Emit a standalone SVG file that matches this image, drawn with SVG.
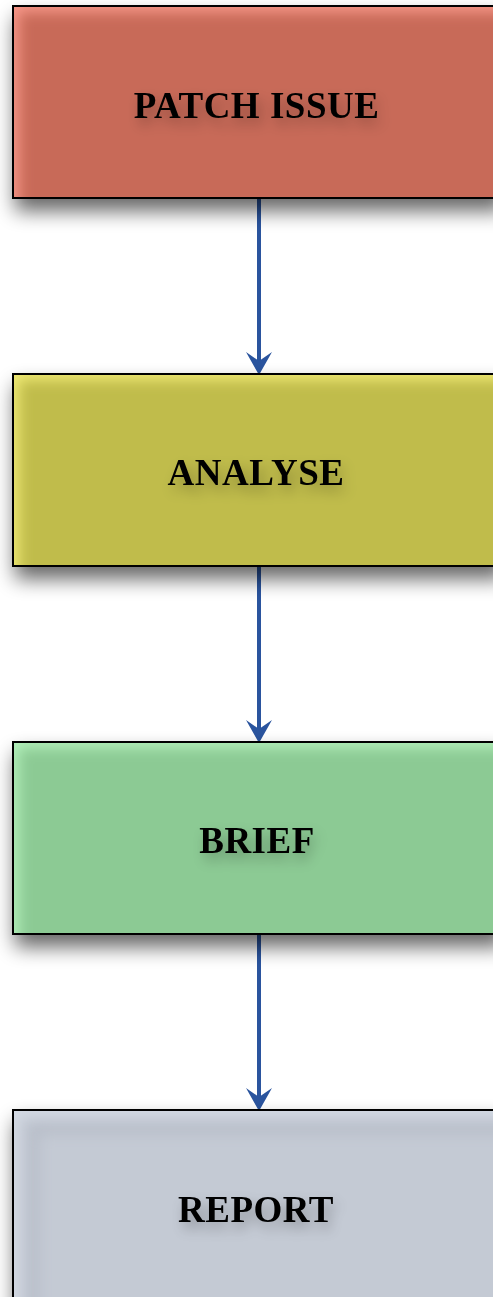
<svg xmlns="http://www.w3.org/2000/svg" width="493" height="1297" viewBox="0 0 493 1297">
<defs>
<style>
.box{stroke:#000;stroke-width:2;filter:url(#drop)}
.lbl{font-family:"Liberation Serif","Times New Roman",serif;font-weight:bold;font-size:37px;letter-spacing:0.5px;text-anchor:middle;fill:#000;filter:url(#tsh)}
.conn{stroke:#2A549E;stroke-width:4;fill:none}
.head{fill:#2A549E}
.glow{fill:none;stroke-width:18;filter:url(#blur)}
</style>
<filter id="drop" x="-10%" y="-20%" width="130%" height="170%">
<feGaussianBlur in="SourceAlpha" stdDeviation="10"/>
<feOffset dx="3" dy="12" result="b"/>
<feComponentTransfer in="b" result="s"><feFuncA type="linear" slope="0.6"/></feComponentTransfer>
<feMerge><feMergeNode in="s"/><feMergeNode in="SourceGraphic"/></feMerge>
</filter>
<filter id="tsh" x="-30%" y="-80%" width="160%" height="260%">
<feGaussianBlur in="SourceAlpha" stdDeviation="7"/>
<feOffset dx="4" dy="7" result="b"/>
<feComponentTransfer in="b" result="s"><feFuncA type="linear" slope="0.3"/></feComponentTransfer>
<feMerge><feMergeNode in="s"/><feMergeNode in="SourceGraphic"/></feMerge>
</filter>
<filter id="blur" x="-10%" y="-10%" width="120%" height="120%"><feGaussianBlur stdDeviation="7"/></filter>
<clipPath id="c1"><rect x="13" y="6" width="488" height="192"/></clipPath>
<clipPath id="c2"><rect x="13" y="374" width="488" height="192"/></clipPath>
<clipPath id="c3"><rect x="13" y="742" width="488" height="192"/></clipPath>
<clipPath id="c4"><rect x="13" y="1110" width="488" height="200"/></clipPath>
</defs>
<g id="connectors">
<line class="conn" x1="259" y1="198" x2="259" y2="362"/>
<line class="conn" x1="259" y1="566" x2="259" y2="730"/>
<line class="conn" x1="259" y1="934" x2="259" y2="1098"/>
<path class="head" d="M246,352 L259,361 L272,352 L259,375 Z"/>
<path class="head" d="M246,720 L259,729 L272,720 L259,743 Z"/>
<path class="head" d="M246,1088 L259,1097 L272,1088 L259,1111 Z"/>
</g>
<g id="patch-issue">
<rect class="box" x="13" y="6" width="488" height="192" fill="#C86A58"/>
<g clip-path="url(#c1)"><rect class="glow" x="10" y="3" width="510" height="230" stroke="#F8988A"/></g>
<rect x="13" y="6" width="488" height="192" fill="none" stroke="#000" stroke-width="2"/>
<text class="lbl" x="256.5" y="118">PATCH ISSUE</text>
</g>
<g id="analyse">
<rect class="box" x="13" y="374" width="488" height="192" fill="#C0BC4C"/>
<g clip-path="url(#c2)"><rect class="glow" x="10" y="371" width="510" height="230" stroke="#F0EA74"/></g>
<rect x="13" y="374" width="488" height="192" fill="none" stroke="#000" stroke-width="2"/>
<text class="lbl" x="256" y="485">ANALYSE</text>
</g>
<g id="brief">
<rect class="box" x="13" y="742" width="488" height="192" fill="#8CCA94"/>
<g clip-path="url(#c3)"><rect class="glow" x="10" y="739" width="510" height="230" stroke="#B2F0BA"/></g>
<rect x="13" y="742" width="488" height="192" fill="none" stroke="#000" stroke-width="2"/>
<text class="lbl" x="257" y="853">BRIEF</text>
</g>
<g id="report">
<rect class="box" x="13" y="1110" width="488" height="200" fill="#C4CAD4"/>
<g clip-path="url(#c4)"><rect x="33" y="1128" width="490" height="200" fill="none" stroke="#B8BEC9" stroke-width="12" filter="url(#blur)"/><rect class="glow" x="10" y="1107" width="510" height="230" stroke="#D4DAE4"/></g>
<rect x="13" y="1110" width="488" height="200" fill="none" stroke="#000" stroke-width="2"/>
<text class="lbl" x="256" y="1222">REPORT</text>
</g>
</svg>
